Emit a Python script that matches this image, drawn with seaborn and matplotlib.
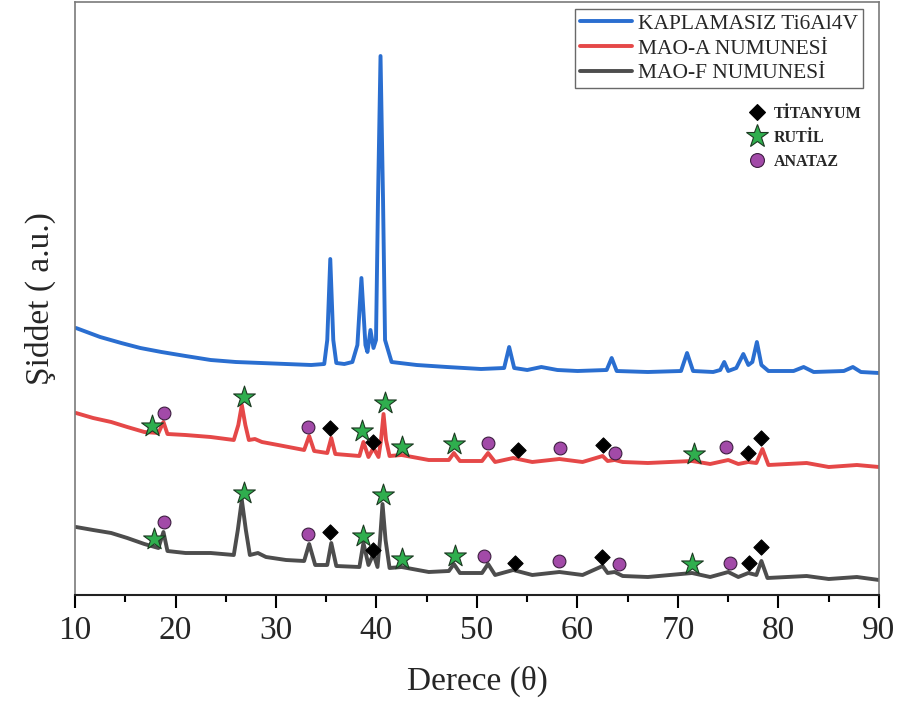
import matplotlib
matplotlib.use("Agg")
import matplotlib.pyplot as plt
from matplotlib.lines import Line2D
from matplotlib.ticker import MultipleLocator
import seaborn as sns
import pandas as pd

# ---------------- data ----------------
blue_x = [10.1, 12.5, 14.6, 16.5, 18.6, 21, 23.5, 26, 28.5, 31, 33.5, 34.8, 35.1, 35.4, 35.7, 36.0,
          36.8, 37.6, 38.1, 38.5, 38.9, 39.1, 39.4, 39.7, 39.95, 40.15, 40.4, 40.65, 40.85, 41.5,
          44, 47, 50.4, 52.7, 53.2, 53.7, 55, 56.4, 58, 60, 62.9, 63.4, 63.9, 67, 70.3, 70.9, 71.5,
          73.5, 74.2, 74.6, 75.0, 75.8, 76.5, 77.0, 77.4, 77.85, 78.3, 79, 81.5, 82.5, 83.5, 86.5,
          87.4, 88.2, 90]
blue_y = [267, 258, 252, 247, 243, 239, 235, 233, 232, 231, 230, 231, 255, 336, 255, 232,
          231, 233, 250, 317, 250, 243, 265, 247, 255, 395, 539, 395, 255, 233,
          230, 228, 226, 227, 248, 227, 225, 228, 225, 224, 225, 237, 224, 223, 224, 242, 224,
          223, 225, 233, 224, 227, 241, 230, 233, 253, 230, 224, 224, 228, 223, 224,
          228, 223, 222]

red_x = [10.1, 11.8, 13.6, 15.2, 16.9, 18.3, 18.8, 19.2, 21, 23.5, 25.8, 26.25, 26.6, 26.95, 27.3,
         27.9, 28.6, 30.2, 32.8, 33.3, 33.8, 35.1, 35.5, 35.9, 38.3, 38.7, 39.2, 39.7, 40.2, 40.45,
         40.7, 40.95, 41.3, 42.5, 45.2, 47.2, 47.7, 48.3, 50.5, 51.1, 51.8, 53.6, 55.5, 58.2, 60.5,
         62.5, 63.0, 63.7, 64.5, 67, 71.4, 73.2, 75.0, 76.0, 77.0, 77.8, 78.4, 79.0, 82.8, 85,
         87.8, 90]
red_y = [182, 177, 173, 168, 163, 162, 173, 161, 160, 158, 155, 170, 190, 170, 155,
         156, 153, 150, 145, 159, 144, 142, 157, 141, 139, 153, 138, 147, 138, 155,
         181, 155, 139, 140, 135, 135, 142, 134, 134, 142, 133, 137, 133, 136, 133,
         139, 134, 135, 133, 132, 134, 131, 135, 131, 133, 132, 146, 130, 132, 128,
         130, 128]

black_x = [10.1, 11.8, 13.6, 15.2, 16.9, 18.3, 18.8, 19.2, 21, 23.5, 25.8, 26.2, 26.6, 27.0, 27.4,
           28.2, 29, 31, 32.8, 33.3, 33.9, 35.1, 35.5, 36.0, 38.3, 38.7, 39.2, 39.7, 40.1, 40.35,
           40.6, 40.9, 41.3, 42.5, 45.2, 47.2, 47.7, 48.3, 50.5, 51.1, 51.8, 53.6, 55.5, 58.2, 60.5,
           62.5, 63.0, 63.7, 64.5, 67, 71.4, 73.2, 75.0, 76.0, 77.0, 77.8, 78.3, 78.9, 82.8, 85,
           87.8, 90]
black_y = [68, 65, 62, 57, 51, 47, 63, 44, 42, 42, 40, 65, 95, 65, 40,
           42, 38, 35, 34, 51, 30, 30, 52, 29, 28, 52, 30, 41, 28, 55,
           91, 55, 27, 28, 23, 24, 31, 22, 22, 31, 20, 25, 20, 23, 20,
           29, 22, 23, 19, 18, 22, 18, 23, 18, 22, 20, 34, 17, 19, 16,
           18, 15]

series_names = ["KAPLAMASIZ Ti6Al4V", "MAO-A NUMUNESİ", "MAO-F NUMUNESİ"]

# phase markers: (2theta, intensity)
titanyum_x = [35.4, 39.7, 54.1, 62.5, 77.0, 78.3, 35.4, 39.7, 53.8, 62.4, 77.1, 78.3]
titanyum_y = [167, 153, 145, 150, 142, 157, 63, 45, 32, 38, 32, 48]
rutil_x = [17.7, 26.8, 38.6, 40.8, 42.5, 47.7, 71.6, 17.9, 26.8, 38.7, 40.6, 42.5, 47.8, 71.4]
rutil_y = [169, 198, 164, 192, 148, 151, 141, 56, 102, 59, 100, 36, 39, 31]
anataz_x = [18.9, 33.2, 51.1, 58.3, 63.7, 74.8, 18.9, 33.2, 50.7, 58.2, 64.1, 75.2]
anataz_y = [182, 168, 152, 147, 142, 148, 73, 61, 39, 34, 31, 32]
phase_names = ["TİTANYUM", "RUTİL", "ANATAZ"]

x_ticks = [10, 20, 30, 40, 50, 60, 70, 80, 90]

# ---------------- styling ----------------
sns.set_theme(style="white")
plt.rcParams["font.family"] = ["Liberation Serif", "DejaVu Serif"]

line_colors = ["#2a6ed0", "#e54848", "#4d4d4d"]
phase_style = {
    "TİTANYUM": dict(marker="D", color="black", edge="black", s=60, ms=8.5),
    "RUTİL": dict(marker="*", color="#2fae4e", edge="#1c3a22", s=270, ms=17),
    "ANATAZ": dict(marker="o", color="#a24aa8", edge="#3d1f40", s=85, ms=10),
}

fig = plt.figure(figsize=(8.98, 7.08), dpi=100)
ax = fig.add_axes([75 / 898, (708 - 595) / 708, (879 - 75) / 898, (595 - 2) / 708])

frames = []
for name, xs, ys in zip(series_names, [blue_x, red_x, black_x], [blue_y, red_y, black_y]):
    frames.append(pd.DataFrame({"theta": xs, "intensity": ys, "series": name}))
df = pd.concat(frames, ignore_index=True)

sns.lineplot(data=df, x="theta", y="intensity", hue="series", palette=line_colors,
             hue_order=series_names, estimator=None, sort=False, linewidth=2.8, ax=ax,
             legend=False)

for pname, xs, ys in zip(phase_names, [titanyum_x, rutil_x, anataz_x], [titanyum_y, rutil_y, anataz_y]):
    st = phase_style[pname]
    sns.scatterplot(x=xs, y=ys, marker=st["marker"], color=st["color"], edgecolor=st["edge"],
                    linewidth=0.8, s=st["s"], ax=ax, zorder=5, legend=False)

ax.set_xlim(10, 90)
ax.set_ylim(0, 593)
ax.set_yticks([])
ax.set_xticks(x_ticks)
ax.xaxis.set_minor_locator(MultipleLocator(5))
ax.tick_params(axis="x", which="major", direction="out", length=9, width=1.5, color="black",
               labelsize=24, pad=6, bottom=True)
ax.tick_params(axis="x", which="minor", direction="out", length=5, width=1.5, color="black",
               bottom=True)
for side in ["left", "right", "top"]:
    ax.spines[side].set_color("#7a7a7a")
    ax.spines[side].set_linewidth(1.2)
ax.spines["bottom"].set_color("#222222")
ax.spines["bottom"].set_linewidth(1.5)

ax.set_xlabel("Derece (θ)", fontsize=24, labelpad=14)
ax.set_ylabel("Şiddet ( a.u.)", fontsize=24, labelpad=14)

# legend 1: lines
line_handles = [Line2D([0], [0], color=c, lw=2.8) for c in line_colors]
leg1 = ax.legend(line_handles, series_names, loc="upper right",
                 bbox_to_anchor=((863 - 75) / 804, 1 - 7 / 593),
                 fontsize=15.5, frameon=True, fancybox=False, edgecolor="#444444",
                 handlelength=2.4, handletextpad=0.3, labelspacing=0.22, borderpad=0.22,
                 borderaxespad=0)
leg1.get_frame().set_linewidth(1.0)
ax.add_artist(leg1)

# legend 2: phase markers
marker_handles = []
for pname in phase_names:
    st = phase_style[pname]
    marker_handles.append(Line2D([0], [0], linestyle="none", marker=st["marker"],
                                 markerfacecolor=st["color"], markeredgecolor=st["edge"],
                                 markersize=st["ms"], markeredgewidth=0.8))
leg2 = ax.legend(marker_handles, phase_names, loc="upper left",
                 bbox_to_anchor=((749 - 75) / 804, 1 - 104 / 593),
                 prop={"size": 11.5, "weight": "bold"}, frameon=False,
                 handlelength=1.0, handletextpad=0.55, labelspacing=0.5, borderaxespad=0,
                 borderpad=0)

fig.savefig("out.png", dpi=100)
